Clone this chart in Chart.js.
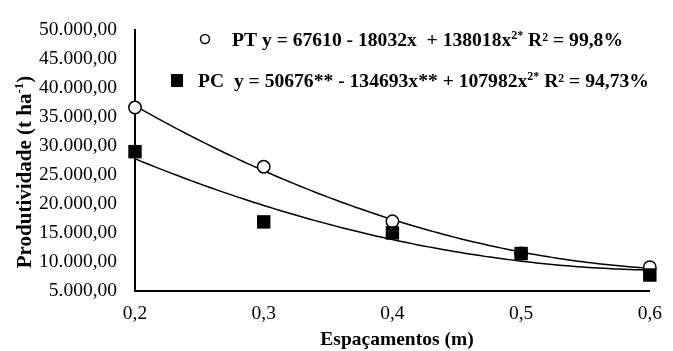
<!DOCTYPE html>
<html><head><meta charset="utf-8">
<script src="https://cdn.jsdelivr.net/npm/chart.js@4.4.1/dist/chart.umd.min.js"></script>
<style>html,body{margin:0;padding:0;background:#fff}#wrap{width:673px;height:351px}</style>
</head><body><div id="wrap"><canvas id="c" width="673" height="351"></canvas></div>
<script>
// ---- data ----
const spacings = [0.2, 0.3, 0.4, 0.5, 0.6];
const ptValues = [36600, 26400, 17000, 11450, 9100];
const pcValues = [29000, 16900, 15000, 11450, 7750];
const xTickValues = [0.2, 0.3, 0.4, 0.5, 0.6];
const yTickValues = [5000, 10000, 15000, 20000, 25000, 30000, 35000, 40000, 45000, 50000];
const ptLegend = ['PT y = 67610 - 18032x  + 138018x', '2*', ' R² = 99,8%'];
const pcLegend = ['PC  y = 50676** - 134693x** + 107982x', '2*', ' R² = 94,73%'];
const xTitle = 'Espaçamentos (m)';
const yTitle = ['Produtividade (t ha', '-1', ')'];

// quadratic least-squares fit of the points (trendline)
function quadFit(xs, ys) {
  let s = [0,0,0,0,0], t = [0,0,0];
  xs.forEach((x,i)=>{ for(let k=0;k<5;k++) s[k]+=Math.pow(x,k); for(let k=0;k<3;k++) t[k]+=ys[i]*Math.pow(x,k); });
  const A = [[s[0],s[1],s[2],t[0]],[s[1],s[2],s[3],t[1]],[s[2],s[3],s[4],t[2]]];
  for (let i=0;i<3;i++){ for(let j=i+1;j<3;j++){ const f=A[j][i]/A[i][i]; for(let k=i;k<4;k++) A[j][k]-=f*A[i][k]; } }
  const c=[0,0,0];
  for (let i=2;i>=0;i--){ let v=A[i][3]; for(let k=i+1;k<3;k++) v-=A[i][k]*c[k]; c[i]=v/A[i][i]; }
  return c;
}
function curve(coef) {
  const pts=[]; const x0=spacings[0], x1=spacings[spacings.length-1];
  for (let i=0;i<=100;i++){ const x=x0+(x1-x0)*i/100; pts.push({x, y:coef[0]+coef[1]*x+coef[2]*x*x}); }
  return pts;
}
function fmtBR(v){
  const s=Math.round(v).toString().replace(/\B(?=(\d{3})+(?!\d))/g,'.');
  return s+',00';
}
const serif = "'Liberation Serif', 'Times New Roman', serif";

const textPlugin = {
  id: 'texts',
  afterDraw(chart) {
    const ctx = chart.ctx;
    ctx.save();
    ctx.fillStyle = '#000'; ctx.strokeStyle = '#000';
    ctx.textBaseline = 'alphabetic'; ctx.textAlign = 'left';
    function drawSegs(segs, x, y, size) {
      let cx = x;
      segs.forEach((s, i) => {
        const sup = (i === 1);
        ctx.font = 'bold ' + (sup ? Math.round(size*0.6) : size) + 'px ' + serif;
        ctx.fillText(s, cx, sup ? y - size*0.38 : y);
        cx += ctx.measureText(s).width;
      });
      return cx - x;
    }
    function segWidth(segs, size){
      let w=0; segs.forEach((s,i)=>{ ctx.font='bold '+(i===1?Math.round(size*0.6):size)+'px '+serif; w+=ctx.measureText(s).width; }); return w;
    }
    // legend
    ctx.lineWidth = 1.5;
    ctx.beginPath(); ctx.arc(205, 39, 4.5, 0, Math.PI*2); ctx.fillStyle='#fff'; ctx.fill(); ctx.stroke();
    ctx.fillStyle = '#000';
    drawSegs(ptLegend, 232, 46, 19.6);
    ctx.fillRect(171, 74, 12, 13);
    drawSegs(pcLegend, 198, 87, 19.6);
    // y title
    ctx.save();
    ctx.translate(31, 172); ctx.rotate(-Math.PI/2);
    const w = segWidth(yTitle, 21);
    drawSegs(yTitle, -w/2, 0, 21);
    ctx.restore();
    // x title
    ctx.font = 'bold 19.5px ' + serif; ctx.textAlign = 'center';
    ctx.fillText(xTitle, 397, 345);
    ctx.restore();
  }
};

new Chart(document.getElementById('c'), {
  type: 'scatter',
  data: {
    datasets: [
      { label: 'PC', data: spacings.map((x,i)=>({x, y: pcValues[i]})), pointStyle: 'rect', pointRadius: 9.5, pointHoverRadius: 9.5,
        backgroundColor: '#000', borderColor: '#000', borderWidth: 0, order: 0, clip: false },
      { label: 'PT', data: spacings.map((x,i)=>({x, y: ptValues[i]})), pointStyle: 'circle', pointRadius: 6.2, pointHoverRadius: 6.2,
        backgroundColor: '#fff', borderColor: '#000', borderWidth: 1.5, order: 1, clip: false },
      { type: 'line', label: 'PT trend', data: curve(quadFit(spacings, ptValues)), borderColor: '#000', borderWidth: 1.5,
        pointRadius: 0, fill: false, tension: 0, order: 2, clip: false },
      { type: 'line', label: 'PC trend', data: curve(quadFit(spacings, pcValues)), borderColor: '#000', borderWidth: 1.5,
        pointRadius: 0, fill: false, tension: 0, order: 3, clip: false }
    ]
  },
  options: {
    responsive: false, animation: false, devicePixelRatio: 1,
    layout: { padding: { top: 18, right: 14, bottom: 20, left: 0 } },
    plugins: { legend: { display: false }, tooltip: { enabled: false } },
    scales: {
      x: {
        type: 'linear', min: 0.2, max: 0.6,
        afterBuildTicks: s => { s.ticks = xTickValues.map(v => ({ value: v })); },
        afterFit: s => { s.height = 40; },
        grid: { display: false, drawTicks: false },
        border: { display: true, color: '#000', width: 2 },
        ticks: { color: '#000', font: { family: serif, size: 19.5 }, padding: 11, maxRotation: 0,
          callback: v => v.toFixed(1).replace('.', ',') }
      },
      y: {
        min: 5000, max: 50000,
        afterBuildTicks: s => { s.ticks = yTickValues.map(v => ({ value: v })); },
        afterFit: s => { s.width = 135; },
        grid: { display: false, drawTicks: false },
        border: { display: true, color: '#000', width: 2 },
        ticks: { color: '#000', font: { family: serif, size: 19.5 }, padding: 18, callback: v => fmtBR(v) }
      }
    }
  },
  plugins: [textPlugin]
});
</script>
</body></html>
